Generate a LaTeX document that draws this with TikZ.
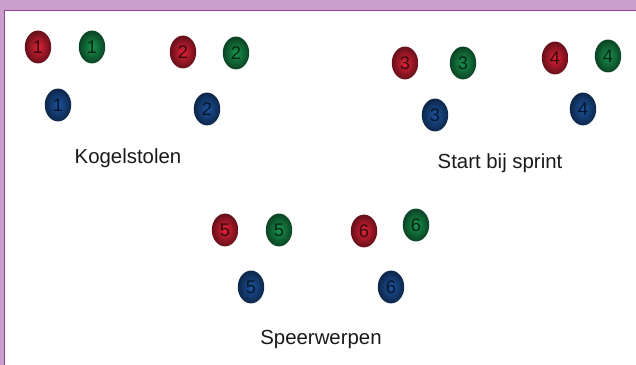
\documentclass[tikz,border=0pt]{standalone}
\usepackage{fontspec}
\setmainfont{Liberation Sans}
\usepackage{tikz}
\usetikzlibrary{shapes.geometric}
\definecolor{framebg}{HTML}{C9A0CB}
\definecolor{frameline}{HTML}{9C3FA3}
\definecolor{ballred}{HTML}{E02238}
\definecolor{ballgreen}{HTML}{18944E}
\definecolor{ballblue}{HTML}{1C54A0}
\tikzset{
    ball/.style={ellipse, inner sep=0pt, minimum width=0.66cm, minimum height=0.82cm,
        font=\fontsize{13}{15}\selectfont},
    redball/.style={ball, shading=radial, inner color=ballred,
        outer color=ballred!45!black, text=ballred!25!black},
    greenball/.style={ball, shading=radial, inner color=ballgreen,
        outer color=ballgreen!45!black, text=ballgreen!25!black},
    blueball/.style={ball, shading=radial, inner color=ballblue,
        outer color=ballblue!45!black, text=ballblue!25!black},
    event/.style={text=black!90, font=\fontsize{14.5}{17}\selectfont}
}

\begin{document}
\begin{tikzpicture}[x=0.025cm, y=-0.025cm]
    \useasboundingbox (0,0) rectangle (636,365);

    % Draw frame
    \fill[framebg] (0,0) rectangle (636,365);
    \fill[white] (4.5,10.5) rectangle (636,365);
    \draw[frameline, line width=0.9pt] (4.5,365) -- (4.5,10.5) -- (636,10.5);

    % Draw balls
    \foreach \n/\rx/\ry/\gx/\gy/\bx/\by in {
        1/38/47/92/47/58/105,
        2/183/52/236/53/207/109,
        3/405/63/463/63/435/115,
        4/555/58/608/56/583/109,
        5/225/230/279/230/251/287,
        6/364/231/416/225/391/287} {
        \node[redball] (r\n) at (\rx,\ry) {\n};
        \node[greenball] (g\n) at (\gx,\gy) {\n};
        \node[blueball] (b\n) at (\bx,\by) {\n};
    }

    % Draw labels
    \node[event] (kogel) at (128,158) {Kogelstolen};
    \node[event] (sprint) at (500,163) {Start bij sprint};
    \node[event] (speer) at (321,339) {Speerwerpen};
\end{tikzpicture}
\end{document}
